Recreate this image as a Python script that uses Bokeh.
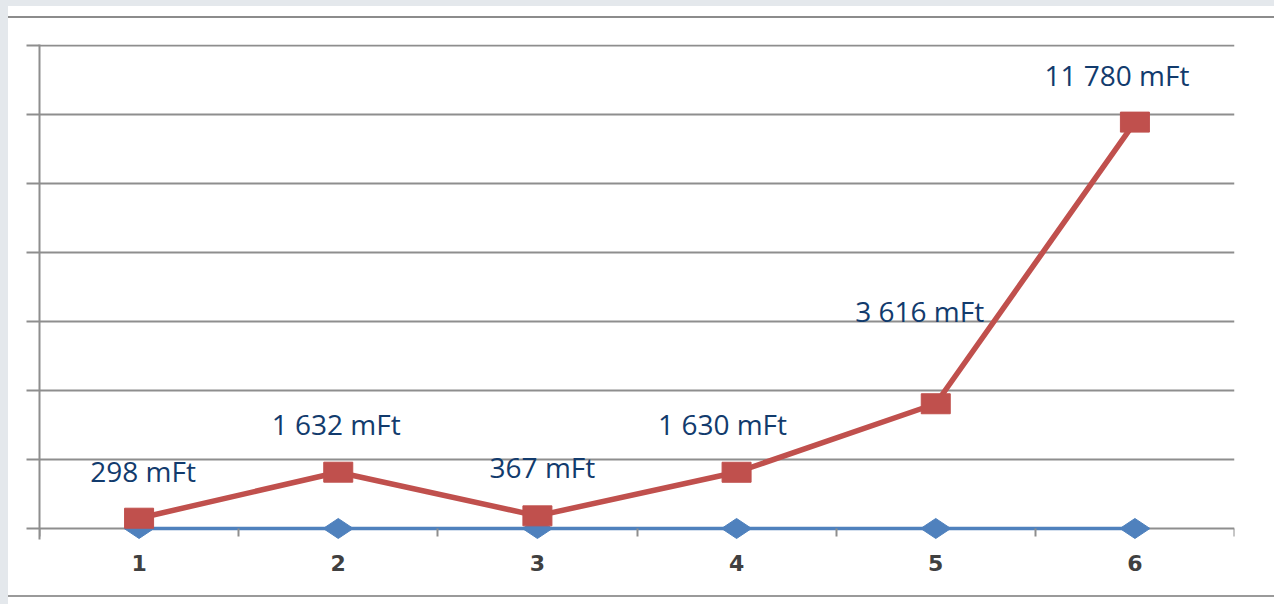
from bokeh.plotting import figure
from bokeh.models import FixedTicker, ColumnDataSource, GlobalInlineStyleSheet, LinearAxis
from bokeh.core.properties import value
from bokeh.embed import file_html
from bokeh.resources import INLINE
import math

# ---- data ----
categories = ["1", "2", "3", "4", "5", "6"]
series_red = [298, 1632, 367, 1630, 3616, 11780]
series_blue = [0, 0, 0, 0, 0, 0]
red_labels = ["298 mFt", "1 632 mFt", "367 mFt", "1 630 mFt", "3 616 mFt", "11 780 mFt"]
y_ticks = [0, 2000, 4000, 6000, 8000, 10000, 12000, 14000]

# label placement offsets (screen px, style only)
lab_dx = [4, -2, 5, -14, -16, -18]
lab_dy = [-47, -48, -49, -48, -93, -47]

xs = list(range(1, len(categories) + 1))

page_css = """
body {
  background:
    linear-gradient(to right, #e4e8ec 0px, #e4e8ec 8px, rgba(255,255,255,0) 8px),
    linear-gradient(to bottom, #e4e8ec 0px, #e4e8ec 6px, #ffffff 6px, #ffffff 16px,
                    #8c8c8c 16px, #8c8c8c 18px, #ffffff 18px, #ffffff 595px,
                    #9a9a9a 595px, #9a9a9a 597px, #ffffff 597px) !important;
}
"""

p = figure(width=1274, height=604, output_backend="svg", toolbar_location=None,
           x_range=(0.5, len(categories) + 0.5), y_range=(-319, 14030),
           x_axis_location=None,
           min_border_left=39, min_border_right=40, min_border_top=44,
           min_border_bottom=65)
p.stylesheets = [GlobalInlineStyleSheet(css=page_css)]
p.background_fill_color = "white"
p.border_fill_color = "white"
p.border_fill_alpha = 0
p.outline_line_color = None

grid_col = "#8e8e8e"
# y axis
p.yaxis.ticker = FixedTicker(ticks=y_ticks)
p.yaxis.major_label_overrides = {t: "" for t in y_ticks}
p.yaxis.major_label_standoff = 0
p.yaxis.major_tick_out = 13
p.yaxis.major_tick_in = 0
p.yaxis.minor_tick_line_color = None
p.yaxis.axis_line_color = grid_col
p.yaxis.axis_line_width = 2
p.yaxis.major_tick_line_color = grid_col
p.yaxis.major_tick_line_width = 2
p.ygrid.ticker = FixedTicker(ticks=y_ticks)
p.ygrid.grid_line_color = grid_col
p.ygrid.grid_line_width = 2

# x axis ticks at value 0 (category boundaries)
tick_axis = LinearAxis(fixed_location=0,
                       ticker=FixedTicker(ticks=xs, minor_ticks=[x - 0.5 for x in xs] + [len(xs) + 0.5]),
                       major_label_overrides={x: "" for x in xs},
                       axis_line_color=None, major_tick_line_color=None,
                       minor_tick_out=8, minor_tick_in=0,
                       minor_tick_line_color=grid_col, minor_tick_line_width=2)
p.add_layout(tick_axis, "below")

# x axis category labels
label_axis = LinearAxis(ticker=FixedTicker(ticks=xs),
                        major_label_overrides={x: c for x, c in zip(xs, categories)},
                        axis_line_color=None, major_tick_line_color=None,
                        minor_tick_line_color=None,
                        major_label_text_font="DejaVu Sans",
                        major_label_text_font_style="bold",
                        major_label_text_font_size="22px",
                        major_label_text_color="#404040",
                        major_label_standoff=9)
p.add_layout(label_axis, "below")
p.xgrid.grid_line_color = None

src = ColumnDataSource(dict(x=xs, red=series_red, blue=series_blue, lab=red_labels,
                            dx=lab_dx, dy=lab_dy))

# blue series
p.line("x", "blue", source=src, line_color="#4f81bd", line_width=3.5)
p.scatter("x", "blue", source=src, marker="diamond", size=30, angle=math.pi / 2,
          fill_color="#4f81bd", line_color="#4f81bd")

# red series
p.line("x", "red", source=src, line_color="#c0504d", line_width=5.5)
p.rect("x", "red", source=src, width=29, height=20, width_units="screen",
       height_units="screen", fill_color="#c0504d", line_color="#c0504d")

p.text("x", "red", text="lab", source=src, x_offset="dx", y_offset="dy",
       text_font=value("Open Sans"), text_font_size="28px", text_color="#123b6d",
       text_align="center", text_baseline="middle")

open("out.html", "w").write(file_html(p, INLINE))
